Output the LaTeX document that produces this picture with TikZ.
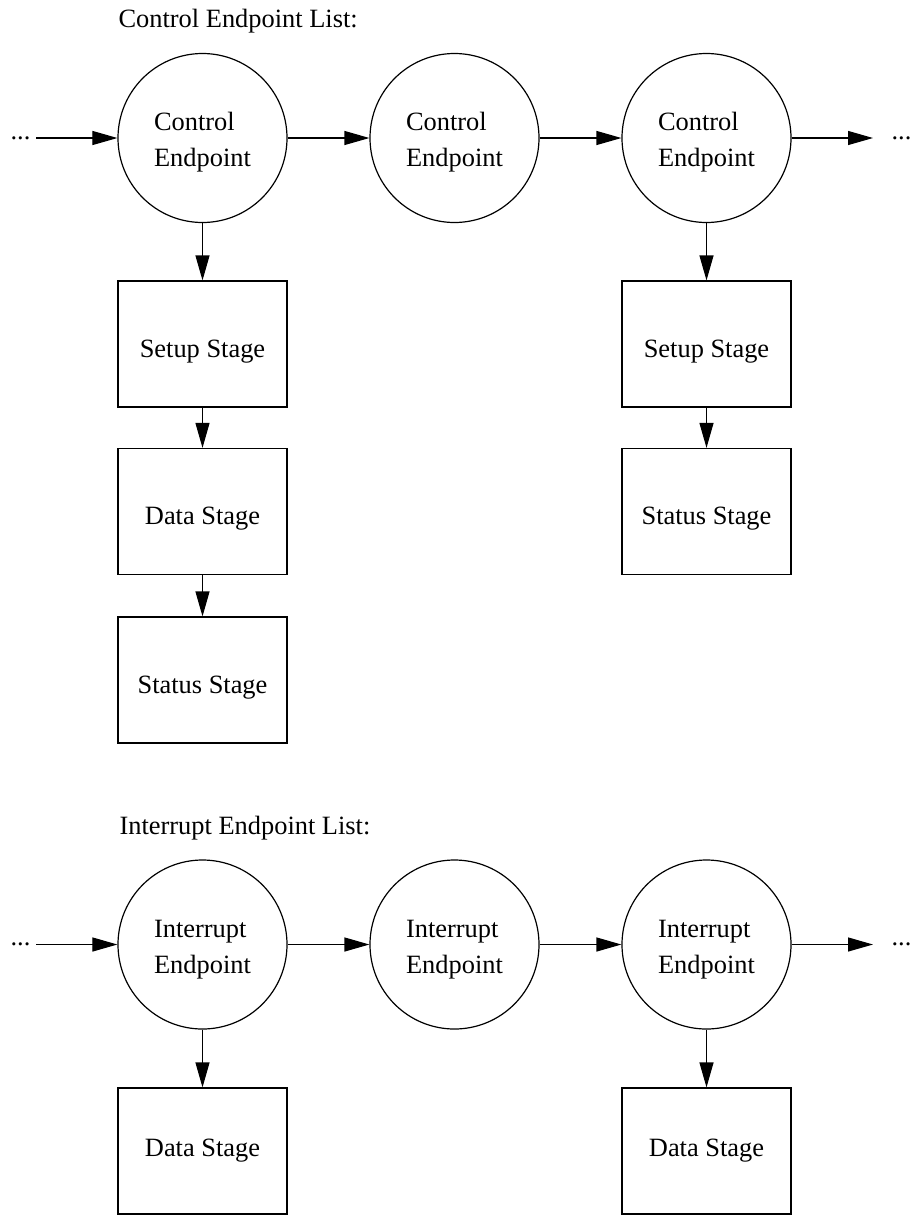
\documentclass[tikz,border=0pt]{standalone}
\usepackage{fontspec}
\setmainfont{Liberation Serif}
\usetikzlibrary{arrows.meta}

\begin{document}
\begin{tikzpicture}[
    x=1bp, y=-1bp, % coordinates in pixels of the page, y going down
    font=\fontsize{26.5}{36}\selectfont,
    line width=1.2bp,
    endpoint/.style={circle, draw, minimum size=169bp, inner sep=0pt, align=left},
    stagebox/.style={rectangle, draw, minimum width=169bp, minimum height=126bp, inner sep=0pt},
    lowtext/.style={text height=32bp},
    listtitle/.style={anchor=west, inner sep=0pt},
    dotsnode/.style={anchor=west, inner sep=0pt},
    link/.style={-{Triangle[length=25bp, width=14bp]}}
]
\useasboundingbox (0,0) rectangle (915,1215);

% --- Control Endpoint List ---
\node[listtitle] (ctitle) at (118, 21) {Control Endpoint List:};

\foreach \i/\x in {1/202.5, 2/454.5, 3/706.5}
    \node[endpoint] (ce\i) at (\x, 138) {\rule{0pt}{27bp}Control\\Endpoint};

\node[dotsnode] (cldots) at (10, 138) {...};
\node[dotsnode] (crdots) at (891, 138) {...};

\node[stagebox, lowtext] (csetupA) at (202.5, 344) {Setup Stage};
\node[stagebox, lowtext] (cdataA) at (202.5, 511.5) {Data Stage};
\node[stagebox, lowtext] (cstatusA) at (202.5, 680) {Status Stage};

\node[stagebox, lowtext] (csetupC) at (706.5, 344) {Setup Stage};
\node[stagebox, lowtext] (cstatusC) at (706.5, 511.5) {Status Stage};

\draw[link, shorten <=5bp] (cldots.east) -- (ce1.west);
\draw[link] (ce1) -- (ce2);
\draw[link] (ce2) -- (ce3);
\draw[link, shorten >=18bp] (ce3.east) -- (crdots.west);

\draw[link] (ce1) -- (csetupA);
\draw[link] (csetupA) -- (cdataA);
\draw[link] (cdataA) -- (cstatusA);
\draw[link] (ce3) -- (csetupC);
\draw[link] (csetupC) -- (cstatusC);

% --- Interrupt Endpoint List ---
\node[listtitle] (ititle) at (119, 828) {Interrupt Endpoint List:};

\foreach \i/\x in {1/202.5, 2/454.5, 3/706.5}
    \node[endpoint] (ie\i) at (\x, 944.5) {\rule{0pt}{27bp}Interrupt\\Endpoint};

\node[dotsnode] (ildots) at (10, 944.5) {...};
\node[dotsnode] (irdots) at (891, 944.5) {...};

\node[stagebox] (idataA) at (202.5, 1151) {Data Stage};
\node[stagebox] (idataC) at (706.5, 1151) {Data Stage};

\draw[link, shorten <=5bp] (ildots.east) -- (ie1.west);
\draw[link] (ie1) -- (ie2);
\draw[link] (ie2) -- (ie3);
\draw[link, shorten >=18bp] (ie3.east) -- (irdots.west);

\draw[link] (ie1) -- (idataA);
\draw[link] (ie3) -- (idataC);

\end{tikzpicture}
\end{document}
